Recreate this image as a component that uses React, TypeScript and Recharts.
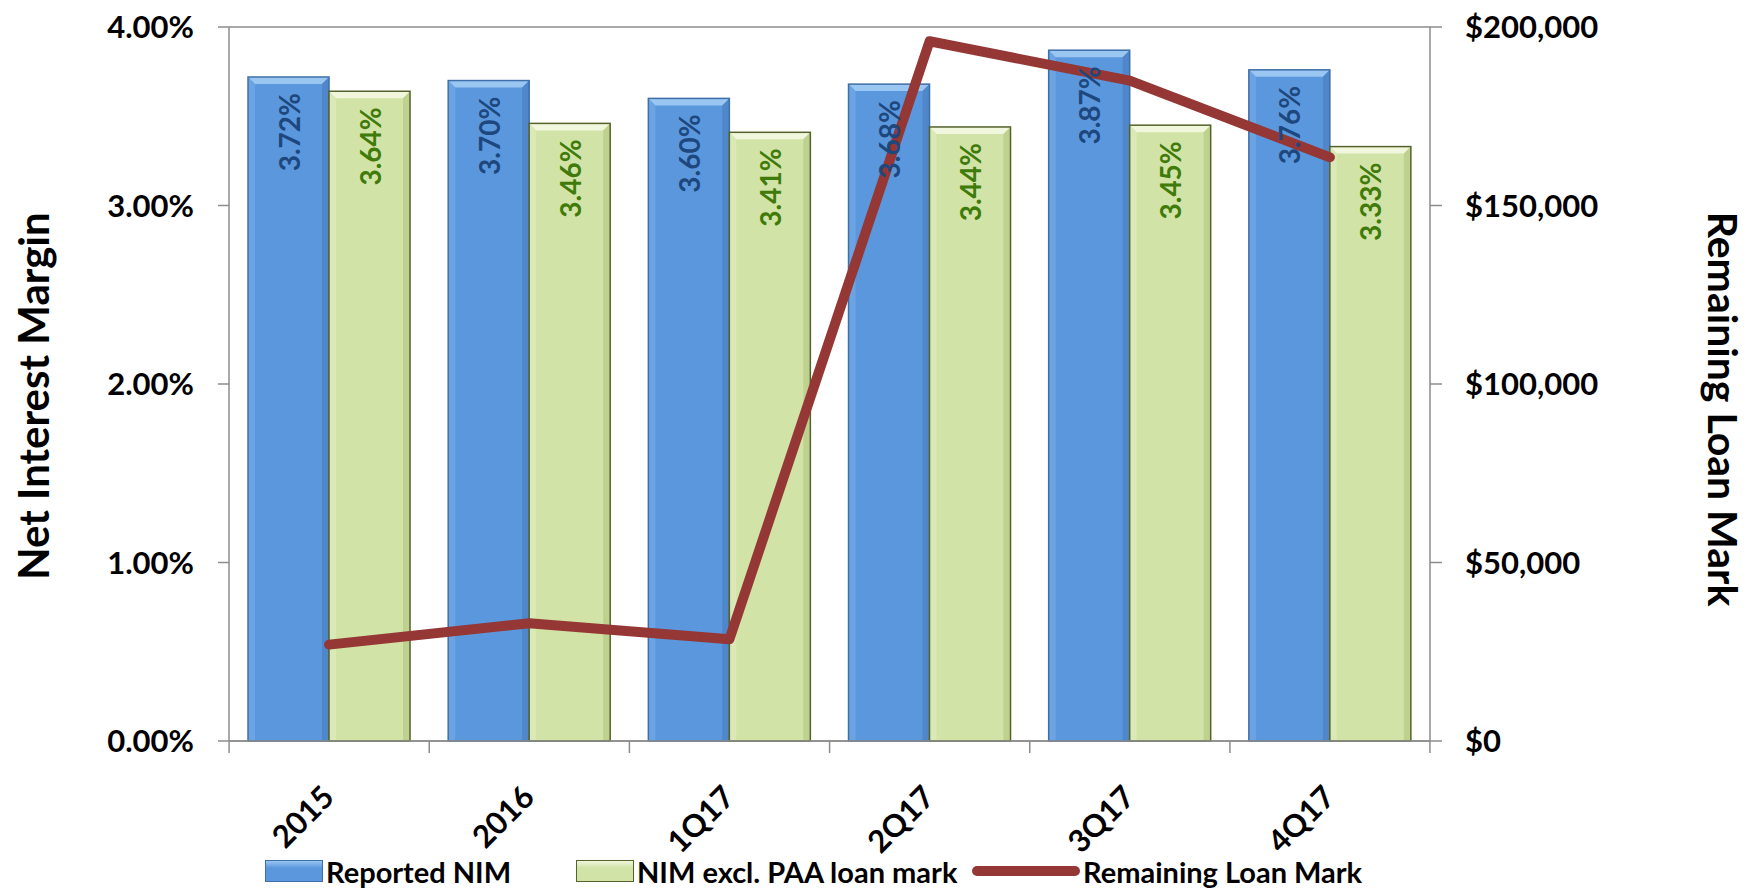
import React from "react";
import {
  ComposedChart, Bar, Line, XAxis, YAxis, CartesianGrid, LabelList,
} from "recharts";

const periods = ["2015", "2016", "1Q17", "2Q17", "3Q17", "4Q17"];
const reportedNim = [3.72, 3.70, 3.60, 3.68, 3.87, 3.76];
const nimExclPaa = [3.64, 3.46, 3.41, 3.44, 3.45, 3.33];
const remainingLoanMark = [27000, 33000, 28500, 196000, 185000, 163500];

const nimTicks = [0, 1, 2, 3, 4];
const markTicks = [0, 50000, 100000, 150000, 200000];

const data = periods.map((p, i) => ({
  period: p,
  reported: reportedNim[i],
  excl: nimExclPaa[i],
  mark: remainingLoanMark[i],
}));

const FONT = "Lato, 'Open Sans', sans-serif";
const AXIS_GRAY = "#8c8c8c";

const blueTheme = { fill: "#5b97dd", border: "#3f6fa8", top: "#9ac6f2", left: "#78aee8", right: "#4a80c2" };
const greenTheme = { fill: "#d1e3a6", border: "#55622c", top: "#f0f7dc", left: "#e0edbf", right: "#b6c985" };

function bevelBar(t: any) {
  return (props: any) => {
    const { x, y, width, height } = props;
    if (height <= 0) return null;
    const b = 7;
    return (
      <g>
        <rect x={x} y={y} width={width} height={height} fill={t.fill} />
        <polygon points={`${x},${y} ${x + width},${y} ${x + width - b},${y + b} ${x + b},${y + b}`} fill={t.top} />
        <polygon points={`${x},${y} ${x + b},${y + b} ${x + b},${y + height} ${x},${y + height}`} fill={t.left} opacity={0.6} />
        <polygon points={`${x + width},${y} ${x + width - b},${y + b} ${x + width - b},${y + height} ${x + width},${y + height}`} fill={t.right} opacity={0.7} />
        <rect x={x} y={y} width={width} height={height} fill="none" stroke={t.border} strokeWidth={1.5} />
      </g>
    );
  };
}

function barLabel(color: string, weight: number) {
  return (props: any) => {
    const { x, y, width, value } = props;
    const cx = x + width / 2;
    const cy = y + 16;
    return (
      <text
        x={cx} y={cy}
        transform={`rotate(-90, ${cx}, ${cy})`}
        textAnchor="end" dominantBaseline="central"
        fill={color} fontSize={28} fontWeight={weight} fontFamily={FONT}
      >
        {value.toFixed(2)}%
      </text>
    );
  };
}

function PeriodTick({ x, y, payload, index }: any) {
  return (
    <g>
      <line x1={x - 100} y1={y} x2={x - 100} y2={y + 12} stroke={AXIS_GRAY} strokeWidth={1.5} />
      {index === periods.length - 1 && (
        <line x1={x + 100} y1={y} x2={x + 100} y2={y + 12} stroke={AXIS_GRAY} strokeWidth={1.5} />
      )}
      <text
        transform={`translate(${x + 7}, ${y + 58}) rotate(-45)`}
        textAnchor="end" fill="#000" fontSize={31} fontWeight={700} fontFamily={FONT}
      >
        {payload.value}
      </text>
    </g>
  );
}

const tickStyle = { fill: "#000", fontSize: 31, fontWeight: 700, fontFamily: FONT };

function LegendSwatch({ kind }: { kind: string }) {
  if (kind === "line") {
    return <div style={{ width: 108, height: 10, borderRadius: 5, background: "#953735", marginRight: 3 }} />;
  }
  const t = kind === "blue" ? blueTheme : greenTheme;
  return (
    <div style={{
      width: 58, height: 22, background: `linear-gradient(${t.top} 0%, ${t.fill} 35%, ${t.fill} 100%)`,
      border: `1.5px solid ${t.border}`, marginRight: 3, boxSizing: "border-box",
    }} />
  );
}

export default function App() {
  const legendItems = [
    { kind: "blue", label: "Reported NIM", left: 265 },
    { kind: "green", label: "NIM excl. PAA loan mark", left: 576 },
    { kind: "line", label: "Remaining Loan Mark", left: 972 },
  ];
  return (
    <div style={{ position: "relative", width: 1750, height: 889, background: "#fff" }}>
      <style>{`body { margin: 0; }`}</style>
      <ComposedChart
        width={1750} height={889} data={data}
        margin={{ top: 27, right: 0, bottom: 0, left: 0 }}
        barCategoryGap="9.5%" barGap={0}
      >
        <CartesianGrid horizontal vertical={false} stroke={AXIS_GRAY} strokeWidth={1.5} />
        <XAxis
          dataKey="period" height={148} tickSize={0} tickMargin={0}
          tick={<PeriodTick />} axisLine={{ stroke: AXIS_GRAY, strokeWidth: 1.5 }} interval={0}
        />
        <YAxis
          yAxisId="nim" orientation="left" width={229} domain={[0, 4]} ticks={nimTicks}
          tickFormatter={(v: number) => `${v.toFixed(2)}%`}
          tick={tickStyle} tickSize={11} tickMargin={24}
          axisLine={{ stroke: AXIS_GRAY, strokeWidth: 1.5 }} tickLine={{ stroke: AXIS_GRAY, strokeWidth: 1.5 }}
          label={{
            content: () => (
              <text
                x={33} y={396} transform="rotate(-90, 33, 396)" textAnchor="middle" dominantBaseline="central"
                fontSize={42} fontWeight={700} fontFamily={FONT} fill="#000"
              >
                Net Interest Margin
              </text>
            ),
          }}
        />
        <YAxis
          yAxisId="mark" orientation="right" width={320} domain={[0, 200000]} ticks={markTicks}
          tickFormatter={(v: number) => `$${v.toLocaleString("en-US")}`}
          tick={{ ...tickStyle, textAnchor: "start" }} tickSize={12} tickMargin={23}
          axisLine={{ stroke: AXIS_GRAY, strokeWidth: 1.5 }} tickLine={{ stroke: AXIS_GRAY, strokeWidth: 1.5 }}
          label={{
            content: () => (
              <text
                x={1723} y={409} transform="rotate(90, 1723, 409)" textAnchor="middle" dominantBaseline="central"
                fontSize={41} fontWeight={700} fontFamily={FONT} fill="#000"
              >
                Remaining Loan Mark
              </text>
            ),
          }}
        />
        <Bar yAxisId="nim" dataKey="reported" shape={bevelBar(blueTheme)} isAnimationActive={false}>
          <LabelList dataKey="reported" content={barLabel("#1d477d", 700)} />
        </Bar>
        <Bar yAxisId="nim" dataKey="excl" shape={bevelBar(greenTheme)} isAnimationActive={false}>
          <LabelList dataKey="excl" content={barLabel("#3f7a0a", 700)} />
        </Bar>
        <Line
          yAxisId="mark" dataKey="mark" type="linear" stroke="#953735" strokeWidth={10}
          strokeLinecap="round" strokeLinejoin="round" dot={false} activeDot={false} isAnimationActive={false}
        />
      </ComposedChart>
      {legendItems.map((it) => (
        <div key={it.label} style={{
          position: "absolute", left: it.left, top: 852, height: 38, display: "flex", alignItems: "center",
          fontFamily: FONT, fontWeight: 700, fontSize: 29, color: "#000",
        }}>
          <LegendSwatch kind={it.kind} />
          <span>{it.label}</span>
        </div>
      ))}
    </div>
  );
}
